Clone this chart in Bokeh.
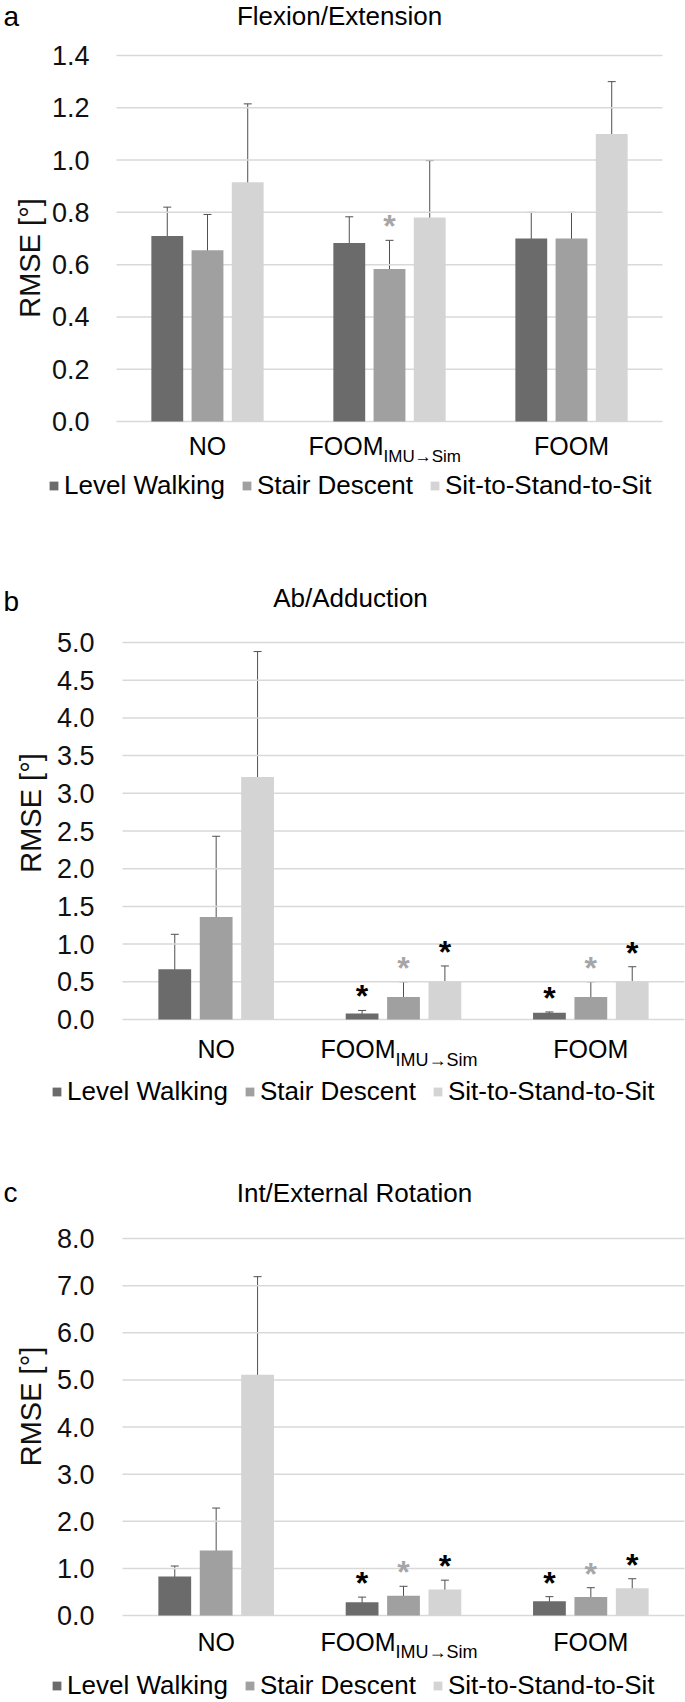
from bokeh.plotting import figure
from bokeh.models import (Range1d, FixedTicker, PrintfTickFormatter, Whisker, TeeHead,
                          ColumnDataSource, Label, Legend, LegendItem)
from bokeh.layouts import column
from bokeh.embed import file_html
from bokeh.resources import INLINE
from bokeh.core.properties import value

# ---------------- data ----------------
categories = ["NO", "FOOM", "FOOM"]
cat_subscripts = ["", "IMU\u2192Sim", ""]
series_names = ["Level Walking", "Stair Descent", "Sit-to-Stand-to-Sit"]
series_colors = ["#6b6b6b", "#a0a0a0", "#d4d4d4"]

# panel a : Flexion/Extension
a_title = "Flexion/Extension"
a_lw_mean = [0.71, 0.683, 0.70]
a_lw_sd = [0.11, 0.10, 0.10]
a_sd_mean = [0.655, 0.583, 0.70]
a_sd_sd = [0.137, 0.11, 0.10]
a_sts_mean = [0.915, 0.78, 1.10]
a_sts_sd = [0.30, 0.218, 0.20]
a_yticks = [0.0, 0.2, 0.4, 0.6, 0.8, 1.0, 1.2, 1.4]
a_sig_cat = [1]
a_sig_series = [1]
a_sig_color = ["#a6a6a6"]

# panel b : Ab/Adduction
b_title = "Ab/Adduction"
b_lw_mean = [0.665, 0.08, 0.09]
b_lw_sd = [0.465, 0.04, 0.01]
b_sd_mean = [1.36, 0.30, 0.30]
b_sd_sd = [1.07, 0.20, 0.20]
b_sts_mean = [3.215, 0.50, 0.50]
b_sts_sd = [1.665, 0.21, 0.20]
b_yticks = [0.0, 0.5, 1.0, 1.5, 2.0, 2.5, 3.0, 3.5, 4.0, 4.5, 5.0]
b_sig_cat = [1, 1, 1, 2, 2, 2]
b_sig_series = [0, 1, 2, 0, 1, 2]
b_sig_color = ["#000000", "#a6a6a6", "#000000", "#000000", "#a6a6a6", "#000000"]

# panel c : Int/External Rotation
c_title = "Int/External Rotation"
c_lw_mean = [0.83, 0.28, 0.30]
c_lw_sd = [0.22, 0.11, 0.10]
c_sd_mean = [1.38, 0.42, 0.39]
c_sd_sd = [0.90, 0.20, 0.20]
c_sts_mean = [5.11, 0.55, 0.58]
c_sts_sd = [2.08, 0.20, 0.20]
c_yticks = [0.0, 1.0, 2.0, 3.0, 4.0, 5.0, 6.0, 7.0, 8.0]
c_sig_cat = [1, 1, 1, 2, 2, 2]
c_sig_series = [0, 1, 2, 0, 1, 2]
c_sig_color = ["#000000", "#a6a6a6", "#000000", "#000000", "#a6a6a6", "#000000"]

# ---------------- style / layout ----------------
FONT = "'Liberation Sans', Arial, Helvetica, sans-serif"
W = 685
OFFS = [-0.221, 0.0, 0.221]
BAR_W = 0.175


def make_panel(letter, title, means, sds, yticks, sig_cat, sig_series, sig_color, g):
    top, H = g["top"], g["H"]
    fl, fr, ft, fb = g["fl"], g["fr"], g["ft"], g["fb"]
    ymax = yticks[-1]
    ppu = (fb - ft) / ymax          # pixels per data unit (y)
    ppx = (fr - fl) / 3.0           # pixels per category (x)

    def Y(yref):
        return (fb - yref) / ppu

    def X(xref):
        return (xref - fl) / ppx

    # the frame covers the whole canvas; the data area is placed through the ranges
    p = figure(width=W, height=H,
               x_range=Range1d(X(0), X(W)), y_range=Range1d(Y(top + H), Y(top)),
               output_backend="svg", toolbar_location=None, min_border=0)
    p.title.visible = False
    p.outline_line_color = None
    p.background_fill_color = "white"
    p.border_fill_color = "white"
    p.xaxis.visible = False
    p.xgrid.visible = False
    p.ygrid.visible = False

    # horizontal grid lines at the y ticks, across the category area
    p.segment(x0=[0] * len(yticks), x1=[3] * len(yticks), y0=yticks, y1=yticks,
              line_color="#d9d9d9", line_width=1.5)

    ax = p.yaxis[0]
    ax.fixed_location = 0
    ax.ticker = FixedTicker(ticks=yticks)
    ax.formatter = PrintfTickFormatter(format="%.1f")
    ax.axis_line_color = None
    ax.major_tick_line_color = None
    ax.minor_tick_line_color = None
    ax.major_tick_out = 0
    ax.major_tick_in = 0
    ax.minor_tick_out = 0
    ax.minor_tick_in = 0
    ax.major_label_standoff = g["tick_standoff"]
    ax.major_label_text_font = FONT
    ax.major_label_text_font_size = "27px"
    ax.major_label_text_color = "#111111"
    ax.axis_label = "RMSE [\u00b0]"
    ax.axis_label_text_font = FONT
    ax.axis_label_text_font_size = "29px"
    ax.axis_label_text_font_style = "normal"
    ax.axis_label_text_color = "#111111"
    ax.axis_label_standoff = g["label_standoff"]

    renderers = []
    for s in range(3):
        xs = [i + 0.5 + OFFS[s] for i in range(len(categories))]
        src = ColumnDataSource(dict(
            x=xs, top=means[s],
            upper=[m + e for m, e in zip(means[s], sds[s])],
            lower=[m - e for m, e in zip(means[s], sds[s])]))
        r = p.vbar(x="x", top="top", bottom=0, width=BAR_W, source=src,
                   fill_color=series_colors[s], line_color=None)
        renderers.append(r)
        wk = Whisker(base="x", upper="upper", lower="lower", source=src,
                     line_color="#505050", line_width=1,
                     upper_head=TeeHead(size=8, line_color="#505050", line_width=1),
                     lower_head=TeeHead(size=8, line_color="#505050", line_width=1))
        p.add_layout(wk)

    # significance asterisks
    ax_x, ax_y = [], []
    for c, s in zip(sig_cat, sig_series):
        ax_x.append(c + 0.5 + OFFS[s])
        ax_y.append(means[s][c] + sds[s][c] + 14.0 / ppu)
    ast = ColumnDataSource(dict(x=ax_x, y=ax_y, t=["*"] * len(ax_x), col=sig_color))
    p.text(x="x", y="y", text="t", source=ast, text_color="col",
           text_font=value(FONT), text_font_size="32px", text_font_style="bold",
           text_align="center", text_baseline="middle")

    def lab(xref_or_data, baseline, text, size, align, data_x=False):
        x = xref_or_data if data_x else X(xref_or_data)
        y = Y(baseline - 0.35 * size)
        p.add_layout(Label(x=x, y=y, text=text, text_font=FONT, text_font_size=f"{size}px",
                           text_color="black", text_align=align, text_baseline="middle"))

    # panel letter and title
    lab(g["letter_x"], g["letter_base"], letter, 28, "left")
    lab(g["title_x"], g["title_base"], title, 26, "center")

    # category labels
    for i, (cat, sub) in enumerate(zip(categories, cat_subscripts)):
        if sub:
            jx = i + 0.5 + g["junction"] / ppx
            lab(jx, g["cat_base"], cat, 25, "right", data_x=True)
            lab(jx, g["sub_base"], sub, g["sub_size"], "left", data_x=True)
        else:
            lab(i + 0.5, g["cat_base"], cat, 25, "center", data_x=True)

    legend = Legend(items=[LegendItem(label=n, renderers=[r]) for n, r in zip(series_names, renderers)],
                    orientation="horizontal",
                    location=(g["legend_x"], (top + H) - g["legend_bottom"]),
                    glyph_width=11, glyph_height=11, label_standoff=5, spacing=16,
                    padding=0, margin=0, border_line_color=None,
                    background_fill_alpha=0, label_text_font=FONT,
                    label_text_font_size="26px", label_text_color="black")
    p.add_layout(legend)
    return p


ga = dict(top=0, H=515, fl=116, fr=662, ft=55, fb=421, letter_x=3, letter_base=26,
          title_x=339, title_base=24.5, cat_base=454, junction=-6, sub_size=17, sub_base=462,
          legend_x=48, legend_bottom=501, tick_standoff=27, label_standoff=3)
gb = dict(top=515, H=595, fl=122, fr=684, ft=642, fb=1019, letter_x=3, letter_base=611,
          title_x=350, title_base=607, cat_base=1057, junction=-8, sub_size=18, sub_base=1066,
          legend_x=51, legend_bottom=1107, tick_standoff=28, label_standoff=7)
gc = dict(top=1110, H=592, fl=122, fr=684, ft=1238, fb=1615, letter_x=3, letter_base=1202,
          title_x=354, title_base=1202, cat_base=1650, junction=-8, sub_size=18, sub_base=1658,
          legend_x=51, legend_bottom=1701, tick_standoff=28, label_standoff=7)

pa = make_panel("a", a_title, [a_lw_mean, a_sd_mean, a_sts_mean], [a_lw_sd, a_sd_sd, a_sts_sd],
                a_yticks, a_sig_cat, a_sig_series, a_sig_color, ga)
pb = make_panel("b", b_title, [b_lw_mean, b_sd_mean, b_sts_mean], [b_lw_sd, b_sd_sd, b_sts_sd],
                b_yticks, b_sig_cat, b_sig_series, b_sig_color, gb)
pc = make_panel("c", c_title, [c_lw_mean, c_sd_mean, c_sts_mean], [c_lw_sd, c_sd_sd, c_sts_sd],
                c_yticks, c_sig_cat, c_sig_series, c_sig_color, gc)

layout = column(pa, pb, pc, spacing=0)
open("out.html", "w").write(file_html(layout, INLINE))
